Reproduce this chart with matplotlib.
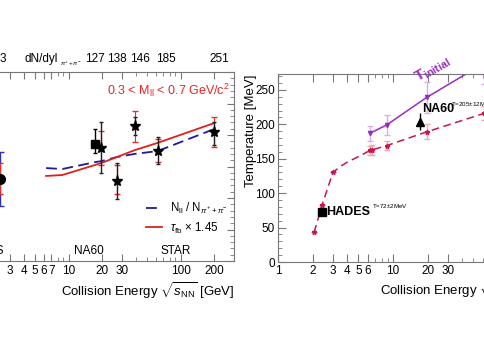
import numpy as np
import matplotlib.pyplot as plt
from matplotlib.ticker import FixedLocator, FixedFormatter, NullFormatter, MultipleLocator
import matplotlib.transforms as mtransforms

plt.rcParams['font.family'] = ['Liberation Sans', 'DejaVu Sans']
plt.rcParams['mathtext.fontset'] = 'custom'
plt.rcParams['mathtext.rm'] = 'Liberation Sans'
plt.rcParams['mathtext.it'] = 'Liberation Sans:italic'
plt.rcParams['mathtext.bf'] = 'Liberation Sans:bold'

# ---- left panel: normalised excess yield (arbitrary units)
model_e = [6.3, 8.8, 17.3, 19.6, 27, 39, 62.4, 200]
ratio_nll = [2.95, 2.92, 3.14, 3.17, 3.30, 3.40, 3.49, 4.19]
tau_fb = [2.70, 2.73, 3.05, 3.11, 3.30, 3.52, 3.75, 4.38]

star_e = [19.6, 27, 39, 62.4, 200]
star_y = [3.59, 2.54, 4.29, 3.49, 4.10]
star_stat_lo = [2.79, 1.97, 4.00, 3.08, 3.68]
star_stat_hi = [4.41, 3.11, 4.57, 3.94, 4.41]
star_sys_lo = [3.05, 2.13, 3.78, 3.14, 3.62]
star_sys_hi = [4.13, 3.05, 4.76, 3.87, 4.57]

na60_e, na60_y, na60_lo, na60_hi = 17.3, 3.71, 3.43, 4.19
hades_e, hades_y = 2.42, 2.60
hades_stat_lo, hades_stat_hi = 1.74, 3.46
hades_sys_lo, hades_sys_hi = 2.13, 3.11

dndy_e = [2.57, 17.1, 26.8, 43.0, 73.5, 222]
dndy_labels = ['3', '127', '138', '146', '185', '251']

# ---- right panel: temperature vs energy
tc_e = [2.06, 2.42, 2.7, 3.0, 3.5, 4.0, 5.0, 6.3, 8.8, 19.6, 62.4]
tc = [43, 83, 107, 130, 139, 145, 153, 162, 169, 189, 216]
tp_e = [2.06, 2.42, 3.0, 6.3, 6.5, 8.8, 19.6, 62.4]
tp = [43, 83, 130, 162, 163, 169, 189, 216]
tp_err = [0, 0, 0, 7, 7, 7, 11, 10]

ti_e = [6.3, 8.8, 19.6, 62.4]
ti = [187, 199, 239, 289]
ti_err = [11, 14, 22, 30]

na60_t_e, na60_t, na60_t_err = 17.3, 204, 12
hades_t_e, hades_t = 2.42, 72

fig = plt.figure(figsize=(4.85, 3.6), dpi=100)

# ================= left
ax = fig.add_axes([-0.0895, 0.275, 0.572, 0.525])
ax.set_xscale('log')
ax.set_xlim(1, 300)
ax.set_ylim(0, 6)

ax.plot(model_e, ratio_nll, ls=(0, (6, 3)), color='#1c1c9c', lw=1.3,
        label=r'N$_{\rm ll}$ / N$_{\pi^{+}+\pi^{-}}$')
ax.plot(model_e, tau_fb, ls='-', color='#e0201c', lw=1.3,
        label=r'$\tau_{\rm fb}$ $\times$ 1.45')

sy = np.array(star_y)
ax.errorbar(star_e, star_y, yerr=[sy - np.array(star_sys_lo), np.array(star_sys_hi) - sy],
            fmt='none', ecolor='#e03030', elinewidth=0.8, capsize=2, capthick=1)
ax.errorbar(star_e, star_y, yerr=[sy - np.array(star_stat_lo), np.array(star_stat_hi) - sy],
            fmt='none', ecolor='#222222', elinewidth=1, capsize=1.5)
ax.plot(star_e, star_y, ls='none', marker='*', ms=8, color='black')

ax.errorbar([na60_e], [na60_y], yerr=[[na60_y - na60_lo], [na60_hi - na60_y]],
            fmt='s', color='black', ms=6, elinewidth=1, capsize=1.5)

ax.errorbar([hades_e], [hades_y], yerr=[[hades_y - hades_stat_lo], [hades_stat_hi - hades_y]],
            fmt='none', ecolor='#3030c0', elinewidth=1, capsize=3)
ax.errorbar([hades_e], [hades_y], yerr=[[hades_y - hades_sys_lo], [hades_sys_hi - hades_y]],
            fmt='none', ecolor='#e03030', elinewidth=0.8, capsize=2)
ax.plot([hades_e], [hades_y], marker='o', ms=7, color='black')

ax.xaxis.set_major_locator(FixedLocator([3, 4, 5, 6, 7, 10, 20, 30, 100, 200]))
ax.xaxis.set_major_formatter(FixedFormatter(['3', '4', '5', '6', '7', '10', '20', '30', '100', '200']))
ax.xaxis.set_minor_locator(FixedLocator([1, 2, 8, 9, 40, 50, 60, 70, 80, 90, 300]))
ax.xaxis.set_minor_formatter(NullFormatter())
ax.yaxis.set_major_locator(MultipleLocator(1))
ax.yaxis.set_minor_locator(MultipleLocator(0.2))
ax.tick_params(which='both', direction='in', top=True, right=True, labelsize=8.5, pad=3,
               color='#777777')
ax.tick_params(which='major', length=5)
ax.tick_params(which='minor', length=3)
ax.tick_params(axis='y', labelleft=False)
for s in ax.spines.values():
    s.set_color('#777777')
ax.set_xlabel(r'Collision Energy $\sqrt{s_{\rm NN}}$ [GeV]', loc='right', fontsize=9.5, labelpad=2)

trans = mtransforms.blended_transform_factory(ax.transData, ax.transAxes)
for e, lab in zip(dndy_e, dndy_labels):
    ax.text(e, 1.035, lab, transform=trans, ha='center', va='bottom', fontsize=8.5)
ax.text(4.04, 1.035, 'dN/dyl', transform=trans, ha='left', va='bottom', fontsize=8.5)
ax.text(8.3, 1.02, r'$\pi^{+}+\pi^{-}$', transform=trans, ha='left', va='bottom', fontsize=4.5)

ax.text(0.986, 0.905, r'0.3 < M$_{\rm ll}$ < 0.7 GeV/c$^{2}$', transform=ax.transAxes,
        ha='right', va='center', color='#ee2222', fontsize=9)
ax.text(2.6, 0.32, 'HADES', ha='right', va='center', fontsize=8.5)
ax.text(15.1, 0.32, 'NA60', ha='center', va='center', fontsize=8.5)
ax.text(90, 0.32, 'STAR', ha='center', va='center', fontsize=8.5)

ax.legend(loc='lower left', bbox_to_anchor=(0.645, 0.08), frameon=False, fontsize=8.3,
          handlelength=1.4, handletextpad=0.7, labelspacing=0.35)

# ================= right
bx = fig.add_axes([0.5732, 0.2722, 0.5687, 0.5222])
bx.set_xscale('log')
bx.set_xlim(1, 250)
bx.set_ylim(0, 273)

bx.errorbar(ti_e, ti, yerr=ti_err, fmt='none', ecolor='#dcaee8', elinewidth=1, capsize=2)
bx.plot(ti_e, ti, color='#9a2bbf', lw=1.1, marker='v', ms=3)

bx.errorbar(tp_e, tp, yerr=tp_err, fmt='none', ecolor='#f2a6b8', elinewidth=1, capsize=2)
bx.plot(tc_e, tc, color='#c8164a', lw=1.1, ls=(0, (5, 3)))
bx.plot(tp_e, tp, ls='none', color='#c8164a', marker='*', ms=3.5)

bx.errorbar([na60_t_e], [na60_t], yerr=[na60_t_err], fmt='^', color='black', ms=6,
            elinewidth=1, capsize=0)
bx.plot([hades_t_e], [hades_t], marker='s', ms=6, color='black', ls='none')

bx.text(2.6, hades_t, 'HADES', fontweight='bold', ha='left', va='center', fontsize=9)
bx.text(6.6, 81, r'T=72$\pm$2MeV', ha='left', va='center', fontsize=4.5)
bx.text(17.9, 222, 'NA60', fontweight='bold', ha='left', va='center', fontsize=9)
bx.text(32, 230, r'T=205$\pm$12MeV', ha='left', va='center', fontsize=4.5)
bx.text(17.0, 256, r'$\mathbf{T_{initial}}$', color='#9a2bbf', rotation=30,
        rotation_mode='anchor', ha='left', va='bottom', fontsize=11)

bx.xaxis.set_major_locator(FixedLocator([1, 2, 3, 4, 5, 6, 10, 20, 30, 100, 200]))
bx.xaxis.set_major_formatter(FixedFormatter(['1', '2', '3', '4', '5', '6', '10', '20', '30', '100', '200']))
bx.xaxis.set_minor_locator(FixedLocator([7, 8, 9, 40, 50, 60, 70, 80, 90]))
bx.xaxis.set_minor_formatter(NullFormatter())
bx.yaxis.set_major_locator(MultipleLocator(50))
bx.yaxis.set_minor_locator(MultipleLocator(10))
bx.tick_params(which='both', direction='in', top=True, right=True, labelsize=8.5, pad=2,
               color='#777777')
bx.tick_params(which='major', length=6)
bx.tick_params(which='minor', length=3)
for s in bx.spines.values():
    s.set_color('#777777')
bx.set_xlabel(r'Collision Energy $\sqrt{s_{\rm NN}}$ [GeV]', loc='right', fontsize=9.5, labelpad=2)
bx.set_ylabel('Temperature [MeV]', loc='top', fontsize=9.5, labelpad=-1)

fig.savefig('out.png', dpi=100)
